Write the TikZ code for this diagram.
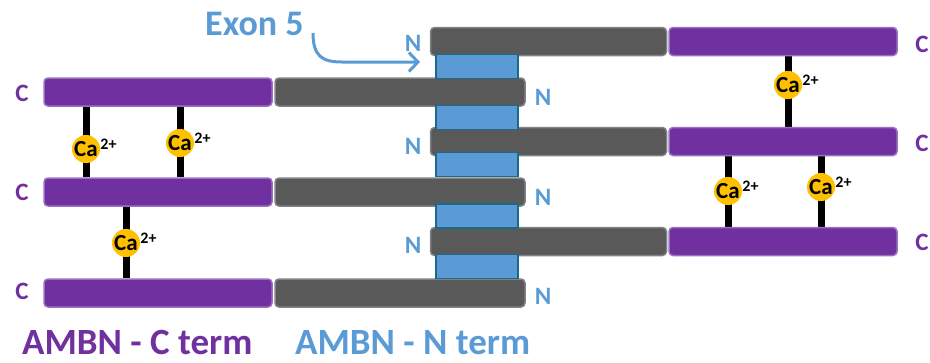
\documentclass[tikz,border=0pt]{standalone}
\usepackage{fontspec}
\setmainfont{Carlito}
\usetikzlibrary{arrows.meta,backgrounds}
\definecolor{purp}{HTML}{7030A0}
\definecolor{purpedge}{HTML}{9A70C2}
\definecolor{darkg}{HTML}{595959}
\definecolor{darkgedge}{HTML}{828282}
\definecolor{exblue}{HTML}{5B9BD5}
\definecolor{exedge}{HTML}{1B6A8A}
\definecolor{cagold}{HTML}{FFC000}
\begin{document}
\begin{tikzpicture}[x=1pt,y=-1pt,
 bar/.style={rectangle, rounded corners=4pt, minimum height=28pt, inner sep=0pt, line width=1.5pt},
 pbar/.style={bar, fill=purp, draw=purpedge, minimum width=228pt},
 gbar/.style={bar, fill=darkg, draw=darkgedge, minimum width=250pt},
 rgbar/.style={gbar, minimum width=236pt},
 exbox/.style={rectangle, fill=exblue, draw=exedge, line width=1.8pt, minimum width=82pt, minimum height=24pt, inner sep=0pt},
 ca/.style={circle, fill=cagold, minimum size=28pt, inner sep=0pt, font=\bfseries\fontsize{23}{23}\selectfont},
 cp/.style={font=\bfseries\fontsize{16}{16}\selectfont, inner sep=0pt, anchor=west},
 link/.style={line width=7pt, black},
 clab/.style={text=purp, inner sep=0pt, font=\bfseries\fontsize{25}{25}\selectfont},
 nlab/.style={text=exblue, inner sep=0pt, font=\bfseries\fontsize{25}{25}\selectfont},
 big/.style={inner sep=0pt, font=\bfseries\fontsize{37}{37}\selectfont}
]
\useasboundingbox (0,0) rectangle (930,362);

% left strands
\node[pbar] (L1p) at (158,92) {};
\node[gbar] (L1g) at (400,92) {};
\node[pbar] (L2p) at (158,192) {};
\node[gbar] (L2g) at (400,192) {};
\node[pbar] (L3p) at (158,293) {};
\node[gbar] (L3g) at (400,293) {};

% right strands
\node[rgbar] (R1g) at (548.5,41.5) {};
\node[pbar] (R1p) at (783,41.5) {};
\node[rgbar] (R2g) at (548.5,141.5) {};
\node[pbar] (R2p) at (783,141.5) {};
\node[rgbar] (R3g) at (548.5,241.5) {};
\node[pbar] (R3p) at (783,241.5) {};

% exon 5 boxes (on top of the bars)
\node[exbox] (B1) at (477,66.5) {};
\node[exbox] (B2) at (477,117.5) {};
\node[exbox] (B3) at (477,164.5) {};
\node[exbox] (B4) at (477,216) {};
\node[exbox] (B5) at (477,266.5) {};

% calcium bridges
\node[ca] (caL1) at (86,149) {Ca};
\node[ca] (caL2) at (180,143) {Ca};
\node[ca] (caL3) at (126,243) {Ca};
\node[ca] (caR1) at (788,85) {Ca};
\node[ca] (caR2) at (728,191) {Ca};
\node[ca] (caR3) at (821,187) {Ca};
\foreach \c in {caL1,caL2,caL3,caR1,caR2,caR3}{
  \node[cp] (\c s) at ([shift={(0,-5)}]\c.east) {2+};
}
\begin{pgfonlayer}{background}
\draw[link] (L1p.south -| caL1) -- (L2p.north -| caL1);
\draw[link] (L1p.south -| caL2) -- (L2p.north -| caL2);
\draw[link] (L2p.south -| caL3) -- (L3p.north -| caL3);
\draw[link] (R1p.south -| caR1) -- (R2p.north -| caR1);
\draw[link] (R2p.south -| caR2) -- (R3p.north -| caR2);
\draw[link] (R2p.south -| caR3) -- (R3p.north -| caR3);
\end{pgfonlayer}

% terminus labels
\node[clab] (cl1) at (22,93) {C};
\node[clab] (cl2) at (22,192) {C};
\node[clab] (cl3) at (22,291) {C};
\node[clab] (cr1) at (922,44) {C};
\node[clab] (cr2) at (922,143) {C};
\node[clab] (cr3) at (922,242) {C};
\node[nlab] (nl1) at (413,43) {N};
\node[nlab] (nl2) at (413,146) {N};
\node[nlab] (nl3) at (413,245) {N};
\node[nlab] (nr1) at (543,97) {N};
\node[nlab] (nr2) at (543,197) {N};
\node[nlab] (nr3) at (543,296) {N};

% exon 5 label and arrow
\node[big, text=exblue, anchor=base west, font=\bfseries\fontsize{36}{36}\selectfont] (exon) at (205,35) {Exon 5};
\coordinate (arrS) at (313,33);
\coordinate (arrE) at (420,62);
\draw[exblue, line width=3pt, -{Straight Barb[length=9pt,width=19pt]}]
  (arrS) .. controls (313,56) and (322,62) .. (342,62) -- (arrE);

% bottom titles
\node[big, text=purp, anchor=base west] (tC) at (22,354) {AMBN - C term};
\node[big, text=exblue, anchor=base west] (tN) at (295,354) {AMBN - N term};
\end{tikzpicture}
\end{document}
